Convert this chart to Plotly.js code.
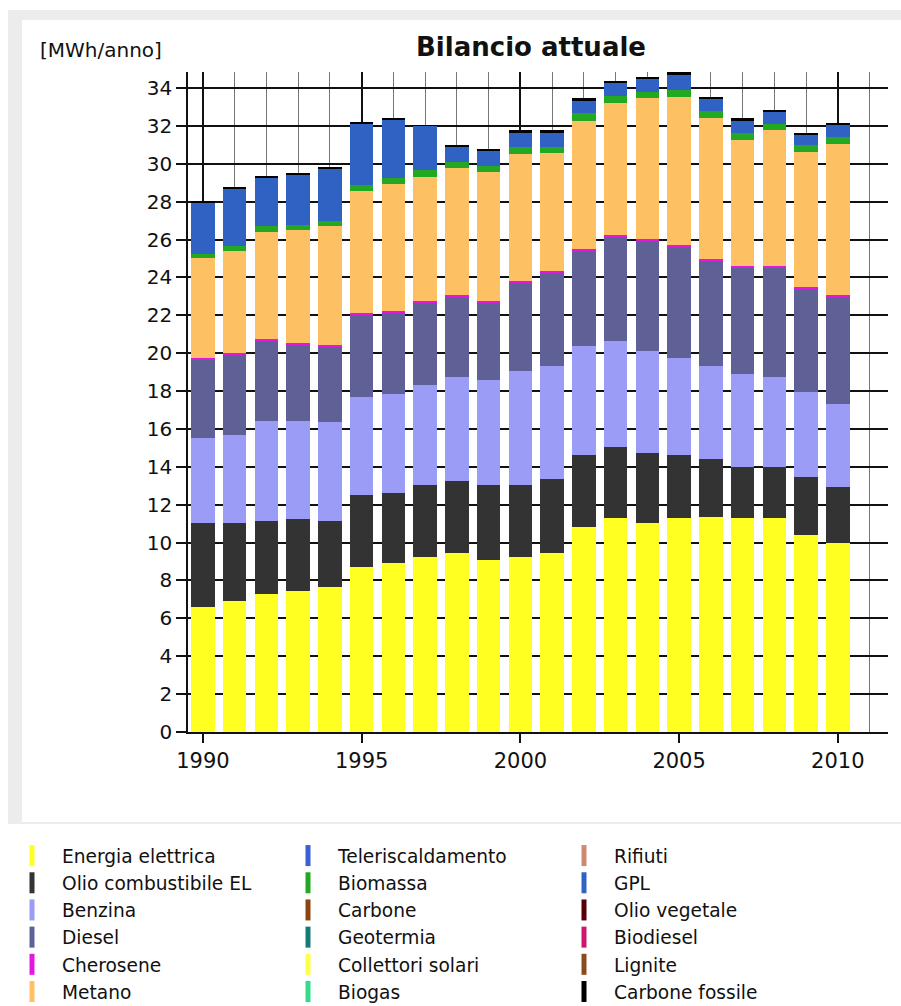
<!DOCTYPE html>
<html>
<head>
<meta charset="utf-8">
<script src="https://cdn.plot.ly/plotly-3.0.1.min.js"></script>
<style>
  html, body { margin: 0; padding: 0; background: #ffffff; }
  #frame { position: absolute; left: 8px; top: 10px; width: 893px; height: 814px; background: #ececec; }
  #panel { position: absolute; left: 22px; top: 20px; width: 879px; height: 802px; background: #ffffff; }
  #chart { position: absolute; left: 0; top: 0; width: 901px; height: 1006px; }
</style>
</head>
<body>
<div id="frame"></div>
<div id="panel"></div>
<div id="chart"></div>
<script>
// ---- data (MWh/anno) ----
const years = [1990,1991,1992,1993,1994,1995,1996,1997,1998,1999,2000,2001,2002,2003,2004,2005,2006,2007,2008,2009,2010];

const energiaElettrica = [6.62,6.92,7.27,7.44,7.67,8.73,8.94,9.26,9.47,9.08,9.26,9.47,10.84,11.28,11.05,11.28,11.37,11.28,11.28,10.40,9.99];
const olioCombustibileEL = [4.40,4.10,3.87,3.81,3.47,3.78,3.70,3.78,3.78,3.96,3.78,3.89,3.79,3.78,3.70,3.35,3.04,2.70,2.70,3.05,2.93];
const benzina = [4.49,4.66,5.30,5.19,5.21,5.19,5.19,5.30,5.51,5.53,6.04,5.96,5.75,5.60,5.38,5.10,4.91,4.91,4.78,4.49,4.38];
const diesel = [4.18,4.23,4.22,4.03,3.99,4.32,4.31,4.33,4.22,4.10,4.64,4.93,5.03,5.49,5.81,5.89,5.56,5.64,5.77,5.47,5.68];
const cherosene = [0.08,0.08,0.08,0.08,0.08,0.08,0.08,0.08,0.08,0.08,0.08,0.08,0.08,0.08,0.08,0.08,0.08,0.08,0.08,0.08,0.08];
const metano = [5.24,5.42,5.68,5.95,6.30,6.48,6.70,6.57,6.70,6.80,6.72,6.22,6.79,7.00,7.44,7.84,7.44,6.65,7.17,7.15,7.99];
const teleriscaldamento = [0,0,0,0,0,0,0,0,0,0,0,0,0,0,0,0,0,0,0,0,0];
const biomassa = [0.25,0.25,0.28,0.28,0.28,0.30,0.32,0.35,0.32,0.32,0.35,0.35,0.38,0.35,0.35,0.35,0.38,0.38,0.35,0.35,0.38];
const carbone = [0,0,0,0,0,0,0,0,0,0,0,0,0,0,0,0,0,0,0,0,0];
const geotermia = [0,0,0,0,0,0,0,0,0,0,0,0,0,0,0,0,0,0,0,0,0];
const collettoriSolari = [0,0,0,0,0,0,0,0,0,0,0,0,0,0,0,0,0,0,0,0,0];
const biogas = [0,0,0,0,0,0,0,0,0,0,0,0,0,0,0,0,0,0,0,0,0];
const rifiuti = [0,0,0,0,0,0,0,0,0,0,0,0,0,0,0,0,0,0,0,0,0];
const gpl = [2.69,3.05,2.60,2.68,2.77,3.26,3.08,2.34,0.86,0.81,0.81,0.78,0.70,0.69,0.69,0.82,0.66,0.64,0.59,0.55,0.62];
const olioVegetale = [0,0,0,0,0,0,0,0,0,0,0,0,0,0,0,0,0,0,0,0,0];
const biodiesel = [0,0,0,0,0,0,0,0,0,0,0,0,0,0,0,0,0,0,0,0,0];
const lignite = [0,0,0,0,0,0,0,0,0,0,0,0,0,0,0,0,0,0,0,0,0];
const carboneFossile = [0.05,0.08,0.06,0.02,0.08,0.03,0.08,0.04,0.05,0.10,0.10,0.10,0.10,0.12,0.10,0.15,0.10,0.12,0.12,0.10,0.12];

// stacking order (bottom -> top) = legend column order
const seriesNames = ["Energia elettrica","Olio combustibile EL","Benzina","Diesel","Cherosene","Metano",
  "Teleriscaldamento","Biomassa","Carbone","Geotermia","Collettori solari","Biogas",
  "Rifiuti","GPL","Olio vegetale","Biodiesel","Lignite","Carbone fossile"];
const seriesValues = [energiaElettrica, olioCombustibileEL, benzina, diesel, cherosene, metano,
  teleriscaldamento, biomassa, carbone, geotermia, collettoriSolari, biogas,
  rifiuti, gpl, olioVegetale, biodiesel, lignite, carboneFossile];
const seriesColors = ["#ffff22","#333333","#9b9cf6","#5f6096","#e018e0","#fdc164",
  "#3a5fd6","#22a822","#8a4510","#157a78","#ffff44","#33dd88",
  "#cc8870","#3062c4","#550008","#cc1670","#8b4a1a","#000000"];
const rowsPerColumn = 6;

const traces = seriesNames.map((name, i) => {
  const col = Math.floor(i / rowsPerColumn), row = i % rowsPerColumn;
  return {
    type: 'bar', name: name, x: years, y: seriesValues[i],
    marker: { color: seriesColors[i], line: { width: 0 } },
    legendrank: row * 3 + col + 1,
    hoverinfo: 'x+y+name'
  };
});

const FONT = 'DejaVu Sans, Verdana, sans-serif';
const plotL = 188, plotR = 888, plotT = 72, plotB = 732;
const W = 901, H = 1006;
const pw = plotR - plotL, ph = plotB - plotT;

const layout = {
  width: W, height: H,
  margin: { l: plotL, r: W - plotR, t: plotT, b: H - plotB, pad: 0, autoexpand: false },
  paper_bgcolor: 'rgba(0,0,0,0)',
  plot_bgcolor: '#ffffff',
  barmode: 'stack',
  bargap: 0.26,
  showlegend: true,
  title: {
    text: '<b>Bilancio attuale</b>',
    font: { family: FONT, size: 26, color: '#111' },
    xref: 'container', yref: 'container',
    x: 531 / W, y: 1 - 47 / H, xanchor: 'center', yanchor: 'middle'
  },
  xaxis: {
    range: [1989.53, 2011.58],
    tick0: 1990, dtick: 5,
    ticks: 'outside', ticklen: 9, tickwidth: 1.5, tickcolor: '#111',
    tickfont: { family: FONT, size: 21, color: '#111' },
    showline: true, linecolor: '#111', linewidth: 1.5,
    showgrid: true, gridcolor: '#111', gridwidth: 2,
    minor: { dtick: 1, tick0: 1990, showgrid: true, gridcolor: '#777', gridwidth: 1, ticks: '' },
    zeroline: false, fixedrange: true
  },
  yaxis: {
    range: [0, 34.85],
    tick0: 0, dtick: 2,
    ticks: 'outside', ticklen: 10, tickwidth: 1.5, tickcolor: '#111',
    tickfont: { family: FONT, size: 20, color: '#111' },
    showline: true, linecolor: '#111', linewidth: 1.5,
    showgrid: true, gridcolor: '#111', gridwidth: 1.5,
    zeroline: false, fixedrange: true
  },
  annotations: [{
    text: '[MWh/anno]', xref: 'paper', yref: 'paper',
    x: (38 - plotL) / pw, y: (plotB - 50) / ph, xanchor: 'left', yanchor: 'middle',
    showarrow: false, font: { family: FONT, size: 20, color: '#111' }
  }],
  legend: {
    orientation: 'h',
    x: (22 - plotL) / pw, y: (plotB - 837) / ph,
    xanchor: 'left', yanchor: 'top',
    entrywidth: 231, entrywidthmode: 'pixels',
    traceorder: 'normal',
    font: { family: FONT, size: 18.6, color: '#111' },
    bgcolor: 'rgba(0,0,0,0)', borderwidth: 0,
    itemclick: false, itemdoubleclick: false
  }
};

Plotly.newPlot('chart', traces, layout, { displayModeBar: false, responsive: false }).then(gd => {
  // tall thin legend swatches, as in the original
  gd.querySelectorAll('.legend .legendpoints path').forEach(p => {
    p.setAttribute('d', 'M-7.5,10.5H-12.5V-10.5H-7.5Z');
  });
});
</script>
</body>
</html>
